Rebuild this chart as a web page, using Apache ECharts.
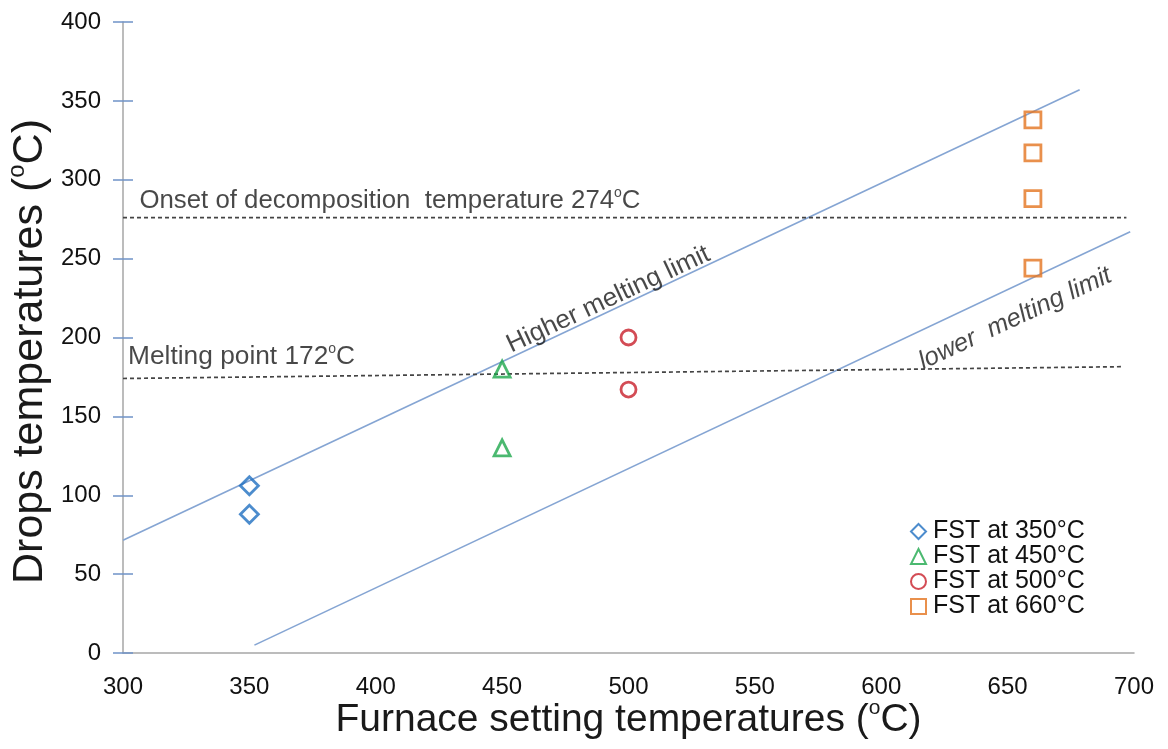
<!DOCTYPE html>
<html>
<head>
<meta charset="utf-8">
<script src="https://cdn.jsdelivr.net/npm/echarts@6/dist/echarts.min.js"></script>
<style>
  html, body { margin: 0; padding: 0; background: #fff; }
  #chart { width: 1168px; height: 749px; }
</style>
</head>
<body>
<div id="chart"></div>
<script>
// measured drop temperatures per furnace setting temperature (FST)
var fst350 = [[350, 106], [350, 88]];
var fst450 = [[450, 180], [450, 130]];
var fst500 = [[500, 200], [500, 167]];
var fst660 = [[660, 338], [660, 317], [660, 288], [660, 244]];

// melting limit lines and reference levels
var higherLimit = [[300, 71.5], [678.5, 357]];
var lowerLimit = [[352, 5], [698.5, 267]];
var decompLine = [[300, 276], [697, 276]];
var meltLine = [[300, 174], [696, 181.5]];

var seriesNames = ['FST at 350°C', 'FST at 450°C', 'FST at 500°C', 'FST at 660°C'];

var font = 'Liberation Sans, Arial, sans-serif';

// text with a small raised "o" used for the degree mark
function richStyle(size) {
    return {
        t: { fontFamily: font, color: '#1a1a1a', fontSize: size, lineHeight: size * 1.15 },
        s: { fontFamily: font, color: '#1a1a1a', fontSize: Math.round(size * 0.55), verticalAlign: 'top', lineHeight: size * 0.8 }
    };
}

var myChart = echarts.init(document.getElementById('chart'));

function markerSeries(name, data, symbol, color, size) {
    return {
        name: name,
        type: 'scatter',
        data: data,
        symbol: symbol,
        symbolSize: size,
        itemStyle: { color: 'rgba(255,255,255,0)', borderColor: color, borderWidth: 2.8 },
        z: 5
    };
}

function lineSeries(data, color, type, width) {
    return {
        type: 'line',
        data: data,
        symbol: 'none',
        silent: true,
        lineStyle: { color: color, width: width, type: type },
        z: 3
    };
}

var option = {
    animation: false,
    backgroundColor: '#fff',
    grid: { left: 123, right: 34, top: 22, bottom: 96, containLabel: false, outerBoundsMode: 'none' },
    legend: {
        data: seriesNames,
        orient: 'vertical',
        left: 910,
        top: 519,
        itemWidth: 15,
        itemHeight: 15,
        itemGap: 0,
        padding: 0,
        textStyle: { fontFamily: font, fontSize: 25, lineHeight: 25, color: '#111', padding: [0, 0, 0, 2] }
    },
    xAxis: {
        type: 'value',
        min: 300,
        max: 700,
        interval: 50,
        name: '{t|Furnace setting temperatures (}{s|o}{t|C)}',
        nameLocation: 'middle',
        nameGap: 45,
        nameMoveOverlap: false,
        nameTextStyle: { rich: richStyle(39) },
        axisLine: { lineStyle: { color: '#a6a6a6', width: 1.5 } },
        axisTick: { show: false },
        axisLabel: { fontFamily: font, fontSize: 24, color: '#111', margin: 22 },
        splitLine: { show: false }
    },
    yAxis: [{
        type: 'value',
        min: 0,
        max: 400,
        interval: 50,
        name: '{t|Drops temperatures (}{s|o}{t|C)}',
        nameLocation: 'middle',
        nameGap: 68,
        nameMoveOverlap: false,
        nameRotate: 90,
        nameTextStyle: { rich: richStyle(43), padding: [0, 28, 0, 0] },
        axisLine: { show: true, lineStyle: { color: '#a6a6a6', width: 1.5 } },
        axisTick: { show: true, length: 10, lineStyle: { color: '#6f93c8', width: 1.5 } },
        axisLabel: { fontFamily: font, fontSize: 24, color: '#111', margin: 22 },
        splitLine: { show: false }
    }, {
        type: 'value',
        min: 0,
        max: 400,
        interval: 50,
        position: 'left',
        axisLine: { show: false },
        axisTick: { show: true, inside: true, length: 10, lineStyle: { color: '#6f93c8', width: 1.5 } },
        axisLabel: { show: false },
        splitLine: { show: false }
    }],
    series: [
        lineSeries(higherLimit, '#85a5d3', 'solid', 1.6),
        lineSeries(lowerLimit, '#85a5d3', 'solid', 1.6),
        lineSeries(decompLine, '#444', [4, 3], 1.7),
        lineSeries(meltLine, '#444', [4, 3], 1.7),
        markerSeries(seriesNames[0], fst350, 'diamond', '#1f6fc1', 18),
        markerSeries(seriesNames[1], fst450, 'triangle', '#1ea84c', 16),
        markerSeries(seriesNames[2], fst500, 'circle', '#c81f2b', 15),
        markerSeries(seriesNames[3], fst660, 'rect', '#e3741f', 16),
        {
            // text annotations placed in data coordinates
            type: 'scatter',
            symbolSize: 0,
            silent: true,
            z: 6,
            data: [
                {
                    value: [306.5, 286.5],
                    label: {
                        show: true, position: 'right', distance: 0,
                        formatter: '{t|Onset of decomposition  temperature 274}{s|o}{t|C}',
                        rich: richStyle(25.8)
                    }
                },
                {
                    value: [302, 187.5],
                    label: {
                        show: true, position: 'right', distance: 0,
                        formatter: '{t|Melting point 172}{s|o}{t|C}',
                        rich: richStyle(26.3)
                    }
                },
                {
                    value: [492, 224],
                    label: {
                        show: true, position: 'inside', rotate: 25,
                        formatter: 'Higher melting limit',
                        fontFamily: font, fontSize: 26, color: '#1a1a1a'
                    }
                },
                {
                    value: [653, 212],
                    label: {
                        show: true, position: 'inside', rotate: 25,
                        formatter: 'lower  melting limit',
                        fontFamily: font, fontSize: 25.5, fontStyle: 'italic', color: '#1a1a1a'
                    }
                }
            ]
        }
    ]
};

myChart.setOption(option);
</script>
</body>
</html>
